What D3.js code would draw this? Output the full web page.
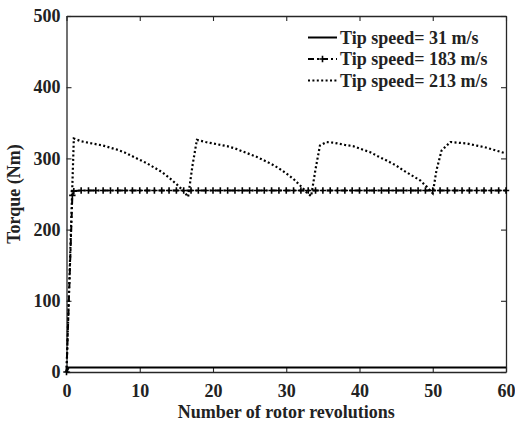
<!DOCTYPE html>
<html>
<head>
<meta charset="utf-8">
<script src="https://cdn.jsdelivr.net/npm/d3@7/dist/d3.min.js"></script>
<style>
  html, body { margin: 0; padding: 0; background: #fff; }
  svg { display: block; }
  text { font-family: "Liberation Serif", "Times New Roman", serif; font-weight: bold; fill: #222; }
</style>
</head>
<body>
<svg id="chart" width="515" height="421"></svg>
<script>
// Torque vs. rotor revolutions for three tip speeds
const xTicks = [0, 10, 20, 30, 40, 50, 60];
const yTicks = [0, 100, 200, 300, 400, 500];
const seriesNames = ["Tip speed= 31 m/s", "Tip speed= 183 m/s", "Tip speed= 213 m/s"];

// 31 m/s: small, steady torque
const rev31 = [0, 0.3, 1, 10, 20, 30, 40, 50, 60];
const torque31 = [0, 6.2, 6.2, 6.2, 6.2, 6.2, 6.2, 6.2, 6.2];

// 183 m/s: fast rise, then steady (marker at every revolution)
const rev183 = [0, 0.8].concat(d3.range(1, 61));
const torque183 = [0, 248, 254].concat(d3.range(2, 61).map(() => 255));

// 213 m/s: periodic build-up and release
const rev213 = [
  0, 1.0, 2, 3, 4, 5, 6, 7, 8, 9, 10, 11, 12, 13, 14, 15, 16, 16.6,
  17.2, 17.8, 19, 20, 21, 22, 23, 24, 25, 26, 27, 28, 29, 30, 31, 32, 32.8, 33.4,
  34.0, 34.6, 35.5, 36.5, 38, 39.2, 40.5, 41.4, 42.5, 43.7, 45, 46, 47, 48.3, 49.2, 50.0,
  50.5, 51.2, 52.4, 53.5, 54.6, 56, 57, 58, 59, 60
];
const torque213 = [
  0, 328, 324, 322, 320, 318, 315, 312, 308, 303, 298, 293, 287, 281, 273, 264, 254, 246,
  290, 326, 323, 321, 319, 317, 314, 310, 306, 302, 297, 292, 286, 279, 271, 261, 252, 247,
  285, 318, 323, 322, 319, 317, 312, 309, 303, 297, 290, 283, 277, 269, 260, 251,
  283, 311, 323, 322, 321, 318, 316, 313, 310, 307
];

const svg = d3.select("#chart");
const margin = { left: 66.5, right: 9, top: 16, bottom: 49 };
const W = 515, H = 421;
const x = d3.scaleLinear().domain([0, 60]).range([margin.left, W - margin.right]);
const y = d3.scaleLinear().domain([0, 500]).range([H - margin.bottom, margin.top]);

const axisColor = "#262626";
const tickLen = 5;

// Box axes with inward ticks on all four sides
const gx = svg.append("g").attr("transform", `translate(0,${y(0)})`)
  .call(d3.axisBottom(x).tickValues(xTicks).tickSizeInner(-tickLen).tickSizeOuter(0).tickPadding(12));
const gxTop = svg.append("g").attr("transform", `translate(0,${y(500)})`)
  .call(d3.axisTop(x).tickValues(xTicks).tickSizeInner(-tickLen).tickSizeOuter(0).tickFormat(""));
const gy = svg.append("g").attr("transform", `translate(${x(0)},0)`)
  .call(d3.axisLeft(y).tickValues(yTicks).tickSizeInner(-tickLen).tickSizeOuter(0).tickPadding(6));
const gyRight = svg.append("g").attr("transform", `translate(${x(60)},0)`)
  .call(d3.axisRight(y).tickValues(yTicks).tickSizeInner(-tickLen).tickSizeOuter(0).tickFormat(""));

[gx, gxTop, gy, gyRight].forEach(g => {
  g.select(".domain").attr("stroke", axisColor).attr("stroke-width", 1.3);
  g.selectAll(".tick line").attr("stroke", axisColor).attr("stroke-width", 1.1);
  g.selectAll(".tick text").attr("font-size", 18).attr("font-family", "Liberation Serif, serif")
    .attr("font-weight", "bold").attr("fill", "#222");
});
gx.selectAll(".tick text").attr("dy", "0.71em");

// Axis titles
svg.append("text")
  .attr("x", (x(0) + x(60)) / 2).attr("y", 418)
  .attr("text-anchor", "middle").attr("font-size", 18)
  .text("Number of rotor revolutions");
svg.append("text")
  .attr("transform", `translate(20,${(y(0) + y(500)) / 2}) rotate(-90)`)
  .attr("text-anchor", "middle").attr("font-size", 18)
  .text("Torque (Nm)");

const line = d3.line().x(d => x(d[0])).y(d => y(d[1]));
const plot = svg.append("g");

const pts31 = rev31.map((r, i) => [r, torque31[i]]);
const pts183 = rev183.map((r, i) => [r, torque183[i]]);
const pts213 = rev213.map((r, i) => [r, torque213[i]]);

plot.append("path").datum(pts31).attr("d", line)
  .attr("fill", "none").attr("stroke", "#000").attr("stroke-width", 2);

plot.append("path").datum(pts183).attr("d", line)
  .attr("fill", "none").attr("stroke", "#000").attr("stroke-width", 2)
  .attr("stroke-dasharray", "6,3,2,3");

const plusPath = (cx, cy, s) => `M${cx - s},${cy}H${cx + s}M${cx},${cy - s}V${cy + s}`;
plot.append("g").selectAll("path").data(pts183).join("path")
  .attr("d", d => plusPath(x(d[0]), y(d[1]), 3.2))
  .attr("stroke", "#000").attr("stroke-width", 1.6).attr("fill", "none");

plot.append("path").datum(pts213).attr("d", line)
  .attr("fill", "none").attr("stroke", "#000").attr("stroke-width", 2.2)
  .attr("stroke-dasharray", "2,2.4");

// Legend
const legend = svg.append("g");
const legY = [37.5, 59, 80.5];
const lx0 = 308, lx1 = 337;
legend.append("line").attr("x1", lx0).attr("x2", lx1).attr("y1", legY[0]).attr("y2", legY[0])
  .attr("stroke", "#000").attr("stroke-width", 2);
legend.append("line").attr("x1", lx0).attr("x2", lx1).attr("y1", legY[1]).attr("y2", legY[1])
  .attr("stroke", "#000").attr("stroke-width", 2).attr("stroke-dasharray", "6,3,2,3");
legend.append("path").attr("d", plusPath((lx0 + lx1) / 2, legY[1], 3.2))
  .attr("stroke", "#000").attr("stroke-width", 1.6);
legend.append("line").attr("x1", lx0).attr("x2", lx1).attr("y1", legY[2]).attr("y2", legY[2])
  .attr("stroke", "#000").attr("stroke-width", 2.2).attr("stroke-dasharray", "2,2.4");
legend.selectAll("text.lab").data(seriesNames).join("text").attr("class", "lab")
  .attr("x", lx1 + 3).attr("y", (d, i) => legY[i]).attr("dy", "0.35em")
  .attr("font-size", 18).text(d => d);
</script>
</body>
</html>
